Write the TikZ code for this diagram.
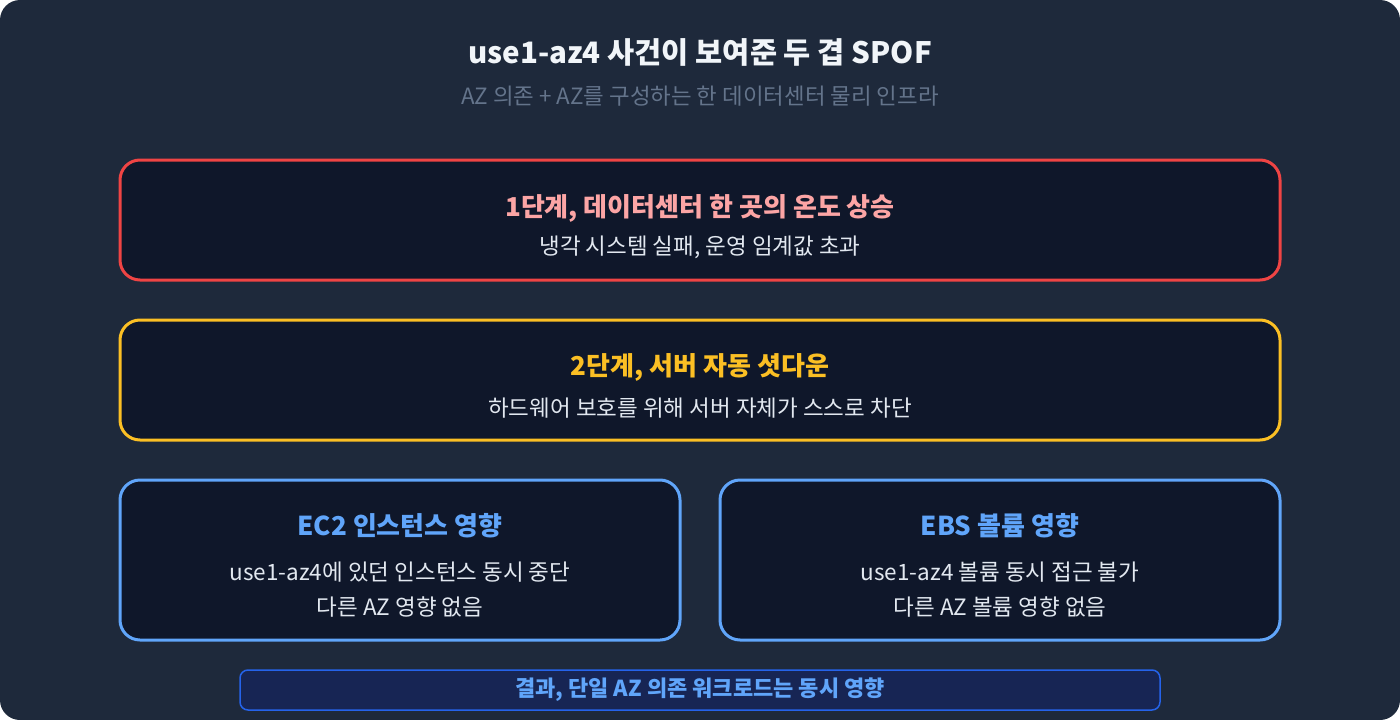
\documentclass[tikz,border=0pt]{standalone}
\usepackage{fontspec}
\setmainfont{Noto Sans CJK KR}
\usetikzlibrary{positioning}
\definecolor{canvas}{HTML}{1E293B}
\definecolor{panel}{HTML}{0F172A}
\definecolor{alert}{HTML}{EF4444}
\definecolor{alertlt}{HTML}{FCA5A5}
\definecolor{warn}{HTML}{FBBF24}
\definecolor{info}{HTML}{60A5FA}
\definecolor{bodytxt}{HTML}{E2E8F0}
\definecolor{mutetxt}{HTML}{64748B}
\definecolor{titletxt}{HTML}{F1F5F9}
\definecolor{resfill}{HTML}{172554}
\definecolor{resline}{HTML}{2563EB}

\begin{document}
\begin{tikzpicture}[x=1pt,y=-1pt,node distance=160pt,on grid,
	stage/.style={draw,line width=3pt,rounded corners=20pt,fill=panel,minimum width=1160pt,minimum height=120pt},
	half/.style={draw=info,line width=3pt,rounded corners=20pt,fill=panel,minimum width=560pt,minimum height=160pt},
	head/.style={font=\fontsize{26}{30}\selectfont\bfseries},
	body/.style={text=bodytxt,font=\fontsize{22.5}{26}\selectfont}]
		\fill[white] (0,0) rectangle (1400,720);
		\fill[canvas,rounded corners=20pt] (0,0) rectangle (1400,720);
		\node[text=titletxt,font=\fontsize{29.5}{34}\selectfont\bfseries] (title) at (700,52) {use1-az4 사건이 보여준 두 겹 SPOF};
		\node[text=mutetxt,font=\fontsize{22.4}{26}\selectfont] (sub) at (700,96) {AZ 의존 + AZ를 구성하는 한 데이터센터 물리 인프라};
		\node[stage,draw=alert] (heat) at (700,220) {};
		\node[stage,draw=warn] (down) [below=of heat] {};
		\node[half] (ec2) at (400,560) {};
		\node[half] (ebs) [right=600pt of ec2] {};
		\node[head,text=alertlt] at ([yshift=12pt]heat.center) {1단계, 데이터센터 한 곳의 온도 상승};
		\node[body] at ([yshift=-27pt]heat.center) {냉각 시스템 실패, 운영 임계값 초과};
		\node[head,text=warn] at ([yshift=13pt]down.center) {2단계, 서버 자동 셧다운};
		\node[body] at ([yshift=-28pt]down.center) {하드웨어 보호를 위해 서버 자체가 스스로 차단};
		\node[head,text=info] at ([yshift=34pt]ec2.center) {EC2 인스턴스 영향};
		\node[body] at ([yshift=-12pt]ec2.center) {use1-az4에 있던 인스턴스 동시 중단};
		\node[body] at ([yshift=-47pt]ec2.center) {다른 AZ 영향 없음};
		\node[head,text=info] at ([yshift=34pt]ebs.center) {EBS 볼륨 영향};
		\node[body] at ([yshift=-12pt]ebs.center) {use1-az4 볼륨 동시 접근 불가};
		\node[body] at ([yshift=-47pt]ebs.center) {다른 AZ 볼륨 영향 없음};
		\node[draw=resline,line width=1.5pt,rounded corners=8pt,fill=resfill,minimum width=920pt,minimum height=40pt,
			text=info,font=\fontsize{22}{26}\selectfont\bfseries] (result) at (700,690) {결과, 단일 AZ 의존 워크로드는 동시 영향};
	\end{tikzpicture}
\end{document}
